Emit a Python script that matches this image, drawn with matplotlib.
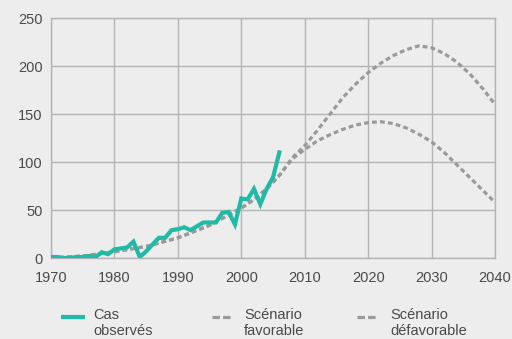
import matplotlib
matplotlib.use("Agg")
import matplotlib.pyplot as plt
from matplotlib.lines import Line2D

plt.rcParams['font.family'] = ['Liberation Sans', 'DejaVu Sans']

# Observed cases
obs_years = list(range(1970, 2007))
obs_values = [1, 1, 0, 0, 1, 1, 2, 1, 6, 4, 9, 10, 11, 17, 1, 7, 14, 21, 21, 29,
              30, 32, 29, 33, 37, 37, 37, 47, 48, 35, 62, 61, 72, 56, 72, 84, 110]

# Scenarios
scen_years = [1970, 1975, 1980, 1985, 1990, 1995, 2000, 2002, 2004, 2006, 2008,
              2010, 2012, 2014, 2016, 2018, 2020, 2022, 2024, 2026, 2028, 2030,
              2032, 2034, 2036, 2038, 2040]
fav_values = [0, 2, 6.5, 12, 21, 34, 52, 61, 72, 86, 104,
              117, 133, 150, 167, 181, 193, 203, 211, 217, 221, 219,
              213, 204, 192, 177, 160]
defav_values = [0, 2, 6.5, 12, 21, 34, 52, 61, 72, 86, 103,
                113, 122, 128.5, 134, 138.5, 141, 142, 140, 135.5, 129, 121,
                110, 97, 84, 71, 58]

labels = ["Cas\nobservés", "Scénario\nfavorable", "Scénario\ndéfavorable"]
x_ticks = [1970, 1980, 1990, 2000, 2010, 2020, 2030, 2040]
y_ticks = [0, 50, 100, 150, 200, 250]

bg = "#ededed"
teal = "#1fbba6"
gray = "#9a9a9b"
gridc = "#b4b4b4"
textc = "#4a4a4a"

fig = plt.figure(figsize=(5.12, 3.39), dpi=100, facecolor=bg)
ax = fig.add_axes([51/512, 1-258/339, (495-51)/512, (258-18)/339])
ax.set_facecolor(bg)

ax.plot(scen_years, fav_values, color=gray, lw=2.3, dashes=(1.5, 1.0), zorder=2)
ax.plot(scen_years, defav_values, color=gray, lw=2.3, dashes=(1.5, 1.0), zorder=2)
ax.plot(obs_years, obs_values, color=teal, lw=3.0, solid_joinstyle='miter',
        zorder=3)

ax.set_xlim(1970, 2040)
ax.set_ylim(0, 250)
ax.set_xticks(x_ticks)
ax.set_yticks(y_ticks)
ax.grid(True, color=gridc, lw=1.0)
ax.set_axisbelow(True)
for s in ax.spines.values():
    s.set_color(gridc)
    s.set_linewidth(1.0)
ax.tick_params(length=0, labelsize=10.5, colors=textc)
ax.tick_params(axis='x', pad=9)
ax.tick_params(axis='y', pad=6)

# Legend (manual)
leg_y = 1 - 317/339
items = [(61, 24, 93, teal, None, 3.0), (212, 19, 244, gray, (2.35, 0.95), 2.3),
         (357, 19, 390, gray, (2.35, 0.95), 2.3)]
for (x0, w, tx, c, dash, lw), lab in zip(items, labels):
    ln = Line2D([x0/512, (x0+w)/512], [leg_y, leg_y], transform=fig.transFigure,
                color=c, lw=lw, solid_capstyle='butt', dash_capstyle='butt')
    if dash:
        ln.set_dashes(dash)
    fig.add_artist(ln)
    fig.text(tx/512, 1-308/339, lab, ha='left', va='top', fontsize=10.5,
             color=textc, linespacing=1.15)

fig.savefig("out.png", dpi=100, facecolor=bg)
